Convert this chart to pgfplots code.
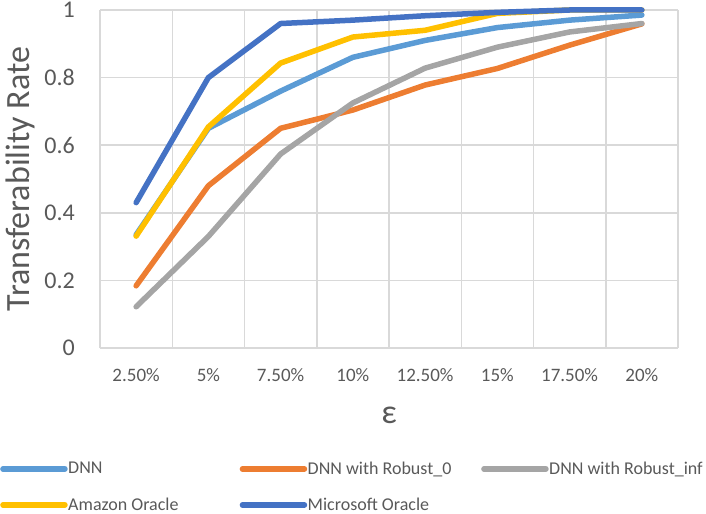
\documentclass[border=0pt]{standalone}
\usepackage{pgfplots}
\pgfplotsset{compat=1.18}
\usepackage{fontspec}
\setmainfont{Carlito}

\definecolor{txt}{HTML}{595959}
\definecolor{gridc}{HTML}{D9D9D9}
\definecolor{cdnn}{HTML}{5B9BD5}
\definecolor{crob}{HTML}{ED7D31}
\definecolor{cinf}{HTML}{A5A5A5}
\definecolor{camz}{HTML}{FFC000}
\definecolor{cmsf}{HTML}{4472C4}

\begin{document}
\begin{tikzpicture}
\useasboundingbox (0bp,0bp) rectangle (706bp,514bp);
\begin{axis}[
  at={(100bp,166bp)}, anchor=south west,
  scale only axis,
  width=578bp, height=338bp,
  xmin=-0.5, xmax=7.5,
  ymin=0, ymax=1,
  clip=false,
  xtick={0,...,7},
  xticklabels={2.50\%,5\%,7.50\%,10\%,12.50\%,15\%,17.50\%,20\%},
  minor xtick={-0.5,0.5,...,7.5},
  ytick={0,0.2,0.4,0.6,0.8,1},
  yticklabels={0,0.2,0.4,0.6,0.8,1},
  major tick length=0pt, minor tick length=0pt,
  ymajorgrids, xminorgrids,
  grid style={gridc, line width=1.5bp},
  minor grid style={gridc, line width=1.5bp},
  axis line style={gridc, line width=1.5bp},
  separate axis lines,
  axis x line*=bottom, axis y line*=left,
  /pgf/number format/assume math mode=true,
  x tick label style={font=\fontsize{19bp}{22bp}\selectfont, text=txt, inner sep=0pt, yshift=-20bp},
  y tick label style={font=\fontsize{24bp}{28bp}\selectfont, text=txt, inner sep=0pt, xshift=-25bp},
  xlabel={ε},
  xlabel style={font=\fontsize{34bp}{40bp}\selectfont, text=txt, at={(axis description cs:0.5,-0.198)}, anchor=center},
  ylabel={Transferability Rate},
  ylabel style={font=\fontsize{34bp}{40bp}\selectfont, text=txt, at={(axis description cs:-0.138,0.5)}, anchor=center},
  legend columns=3,
  legend image code/.code={\draw[#1] (0bp,0bp) -- (62bp,0bp);},
  legend style={draw=none, fill=none, at={(axis description cs:-0.173,-0.335)}, anchor=north west,
    font=\fontsize{18bp}{21bp}\selectfont, text=txt, inner sep=0pt, row sep=21bp,
    nodes={inner sep=0.5bp}, cells={anchor=west}},
  every axis plot/.append style={line width=5.5bp, line cap=round, line join=round},
]
\addplot[cdnn] coordinates {(0,0.335) (1,0.65) (2,0.76) (3,0.86) (4,0.91) (5,0.948) (6,0.97) (7,0.985)};
\addlegendentry{\makebox[171bp][l]{DNN}}
\addplot[crob] coordinates {(0,0.184) (1,0.48) (2,0.65) (3,0.704) (4,0.778) (5,0.827) (6,0.896) (7,0.959)};
\addlegendentry{\makebox[173bp][l]{DNN with Robust\_0}}
\addplot[cinf] coordinates {(0,0.122) (1,0.33) (2,0.574) (3,0.725) (4,0.828) (5,0.89) (6,0.935) (7,0.96)};
\addlegendentry{DNN with Robust\_inf}
\addplot[camz] coordinates {(0,0.331) (1,0.654) (2,0.843) (3,0.92) (4,0.94) (5,0.99) (6,1.0) (7,1.0)};
\addlegendentry{\makebox[171bp][l]{Amazon Oracle}}
\addplot[cmsf] coordinates {(0,0.43) (1,0.80) (2,0.96) (3,0.97) (4,0.983) (5,0.993) (6,1.0) (7,1.0)};
\addlegendentry{\makebox[173bp][l]{Microsoft Oracle}}
\end{axis}
\end{tikzpicture}
\end{document}
